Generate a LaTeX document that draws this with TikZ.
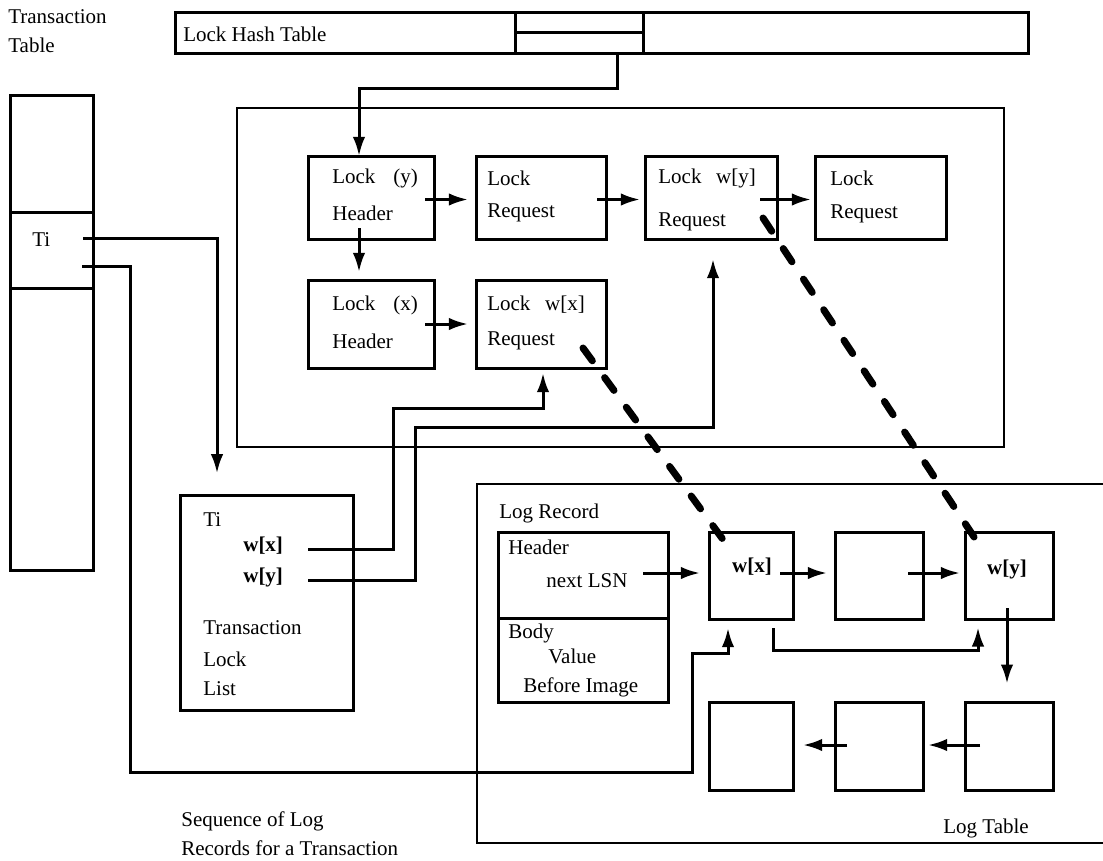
\documentclass[tikz,border=0pt]{standalone}
\usepackage{fontspec}
\setmainfont{Liberation Serif}
\usetikzlibrary{arrows.meta,fit,calc}
\begin{document}
\begin{tikzpicture}[x=0.6pt,y=-0.6pt,
  box/.style={draw, line width=1.8pt, inner sep=0pt, outer sep=0pt},
  frame/.style={draw, line width=1.6pt, inner sep=0pt, outer sep=0pt},
  lbl/.style={anchor=west, inner sep=0pt, font=\fontsize{12.6pt}{14pt}\selectfont},
  bl/.style={lbl, font=\fontsize{12.6pt}{14pt}\selectfont\bfseries},
  conn/.style={line width=1.8pt},
  arr/.style={conn, -{Latex[length=11.5pt,width=7.5pt]}},
  dsh/.style={line width=4.2pt, line cap=round, dash pattern=on 9.5pt off 12.5pt},
]
\useasboundingbox (0,0) rectangle (1103,860);

% ---------- Transaction table ----------
\node[lbl] (ttl1) at (8,17) {Transaction};
\node[lbl] (ttl2) at (8,45) {Table};
\node[box, fit={(10,95)(93,570)}] (tt) {};
\node[box, fit={(10,212)(93,288)}] (ticell) {};
\node[lbl] (tilbl) at (32,240) {Ti};

% ---------- Lock hash table ----------
\node[box, fit={(175,12)(1028,53)}] (hash) {};
\node[box, fit={(515,12)(643,32)}] (hc1) {};
\node[box, fit={(515,32)(643,53)}] (hc2) {};
\node[lbl] (hashl) at (183,34) {Lock Hash Table};

% ---------- Lock area ----------
\node[frame, fit={(237,108)(1004,447)}] (lockarea) {};
\node[box, fit={(308,156)(434,239)}] (lockY) {};
\node[box, fit={(476,156)(606,239)}] (req1) {};
\node[box, fit={(645,156)(777,239)}] (reqWy) {};
\node[box, fit={(815,156)(946,239)}] (req3) {};
\node[box, fit={(308,280)(434,368)}] (lockX) {};
\node[box, fit={(476,280)(606,368)}] (reqWx) {};

\node[lbl] (lyl1) at (332,178) {Lock\hspace{0.85em}(y)};
\node[lbl] (lyl2) at (332,213) {Header};
\node[lbl] (r1l1) at (487,178) {Lock};
\node[lbl] (r1l2) at (487,213) {Request};
\node[lbl] (rwyl1) at (658,178) {Lock\hspace{0.7em}w[y]};
\node[lbl] (rwyl2) at (658,222) {Request};
\node[lbl] (r3l1) at (830,178) {Lock};
\node[lbl] (r3l2) at (830,214) {Request};
\node[lbl] (lxl1) at (332,305) {Lock\hspace{0.85em}(x)};
\node[lbl] (lxl2) at (332,341) {Header};
\node[lbl] (rwxl1) at (487,305) {Lock\hspace{0.7em}w[x]};
\node[lbl] (rwxl2) at (487,341) {Request};

% ---------- Transaction lock list ----------
\node[box, fit={(180,495)(353,710)}] (tll) {};
\node[lbl] (tllti) at (203,520) {Ti};
\node[bl] (tllwx) at (243,546) {w[x]};
\node[bl] (tllwy) at (243,577) {w[y]};
\node[lbl] (tll1) at (203,628) {Transaction};
\node[lbl] (tll2) at (203,659) {Lock};
\node[lbl] (tll3) at (203,689) {List};

% ---------- Log table ----------
\draw[line width=1.6pt] (1103,484) -- (477,484) -- (477,843) -- (1103,843);
\node[lbl] (logtab) at (943,828) {Log Table};
\node[lbl] (logrec) at (499,513) {Log Record};
\node[box, fit={(498,532)(668,618)}] (lrhead) {};
\node[box, fit={(498,618)(668,702)}] (lrbody) {};
\node[lbl] (hdl) at (508,547) {Header};
\node[lbl] (nlsn) at (546,581) {next LSN};
\node[lbl] (bdl) at (508,633) {Body};
\node[lbl] (vall) at (548,656) {Value};
\node[lbl] (bil) at (523,687) {Before Image};

\node[box, fit={(709,532)(793,619)}] (lwx) {};
\node[box, fit={(835,532)(923,619)}] (lmid) {};
\node[box, fit={(965,532)(1053,619)}] (lwy) {};
\node[box, fit={(709,702)(793,790)}] (lbl1) {};
\node[box, fit={(835,702)(923,790)}] (lbm) {};
\node[box, fit={(965,702)(1053,790)}] (lbr) {};
\node[bl, anchor=center] (lwxt) at (752,567) {w[x]};
\node[bl, anchor=center] (lwyt) at (1007,569) {w[y]};

\node[lbl] (seq1) at (181,821) {Sequence of Log};
\node[lbl] (seq2) at (181,848) {Records for a Transaction};

% ---------- connector anchor points ----------
\coordinate (hs) at (617,53);
\coordinate (ti1) at (83,238);
\coordinate (ti2) at (82,266);
\coordinate (twx) at (308,549);
\coordinate (twy) at (308,580);
\coordinate (lsn) at (643,573);
\coordinate (wxb) at (773,628);

% ---------- connectors ----------
\draw[arr] (hs) -- (617,88) -| ($(lockY.north)+(-12,0)$);
\draw[arr, shorten >=4.8pt] ($(lockY.east)+(-9,2)$) -- ($(req1.west)+(0,2)$);
\draw[arr, shorten >=3pt] ($(req1.east)+(-9,2)$) -- ($(reqWy.west)+(0,2)$);
\draw[arr, shorten >=2.4pt] ($(reqWy.east)+(-17,2)$) -- ($(req3.west)+(0,2)$);
\draw[arr, shorten >=4.8pt] ($(lockY.south)+(-12,-11)$) -- ($(lockX.north)+(-12,0)$);
\draw[arr, shorten >=4.8pt] ($(lockX.east)+(-9,0)$) -- (reqWx.west);

\draw[arr, shorten >=13pt] (ti1) -| (tll.north -| 217,0);
\draw[arr, shorten >=5.4pt] (ti2) -- (130,266) -- (130,772) -- (692,772) -- (692,653) -- (728,653) -- (lwx.south -| 728,0);
\draw[arr, shorten >=3pt] (twx) -- (393,549) -- (393,408) -- (543,408) -- (reqWx.south -| 543,0);
\draw[arr, shorten >=12pt] (twy) -- (415,580) -- (415,427) -- (713,427) -- (reqWy.south -| 713,0);

\draw[arr, shorten >=5.4pt] (lsn) -- (lwx.west |- lsn);
\draw[arr, shorten >=4.8pt] ($(lwx.east)+(-13,-2.5)$) -- ($(lmid.west)+(0,-2.5)$);
\draw[arr, shorten >=3pt] ($(lmid.east)+(-15,-2.5)$) -- ($(lwy.west)+(0,-2.5)$);
\draw[arr, shorten >=5pt] (wxb) -- (773,650) -- (978,650) -- (lwy.south -| 978,0);
\draw[arr, shorten >=11pt] ($(lwy.south)+(-2,-11)$) -- ($(lbr.north)+(-2,0)$);
\draw[arr, shorten >=3pt] ($(lbr.west)+(15,-1)$) -- ($(lbm.east)+(0,-1)$);
\draw[arr, shorten >=6pt] ($(lbm.west)+(12,-1)$) -- ($(lbl1.east)+(0,-1)$);

% ---------- dashed links ----------
\draw[dsh] ($(reqWx.south east)+(-23,-20)$) -- ($(lwx.north west)+(18,13)$);
\draw[dsh] ($(reqWy.south east)+(-14,-21)$) -- ($(lwy.north west)+(13,11)$);
\end{tikzpicture}
\end{document}
